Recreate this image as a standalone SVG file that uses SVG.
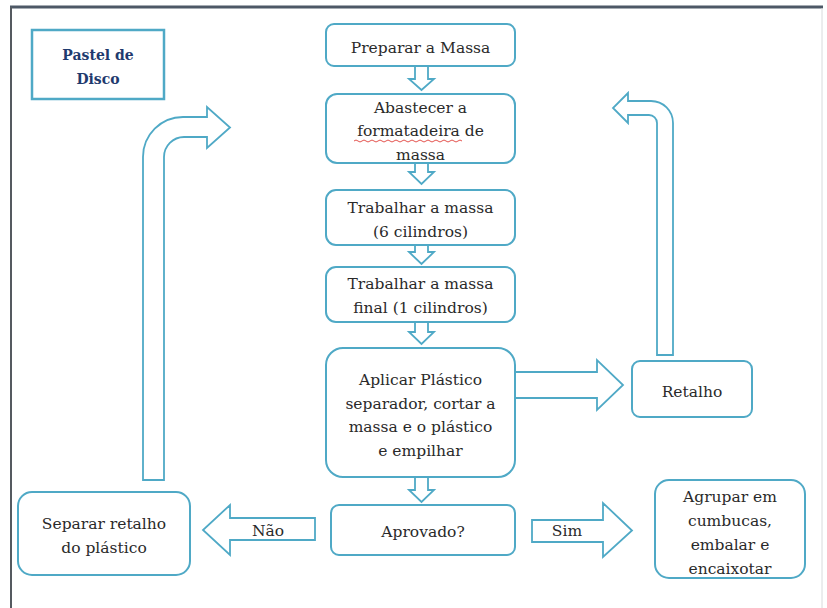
<svg xmlns="http://www.w3.org/2000/svg" width="827" height="608" viewBox="0 0 827 608">
<style>
.box{fill:#ffffff;stroke:#4fa9c6;stroke-width:2}
.arr{fill:#ffffff;stroke:#4fa9c6;stroke-width:1.8;stroke-linejoin:miter}
.t{font-family:"DejaVu Serif","Liberation Serif",serif;font-size:15.5px;fill:#2a2a2a;text-anchor:middle}
.title{font-family:"DejaVu Serif","Liberation Serif",serif;font-size:14px;font-weight:bold;fill:#1f3a6e;text-anchor:middle}
</style>
<rect x="0" y="0" width="827" height="608" fill="#ffffff"/>
<g id="frame">
<line x1="10" y1="7" x2="823" y2="7" stroke="#4d5866" stroke-width="3"/>
<line x1="11" y1="7" x2="11" y2="608" stroke="#555a60" stroke-width="2"/>
<line x1="822" y1="8" x2="822" y2="608" stroke="#d8dadc" stroke-width="1"/>
</g>
<g id="connectors">
<path class="arr" d="M143,480 L143,157 A40,40 0 0 1 183,117 L207,117 L207,107 L230,127.5 L207,148 L207,137 L184,137 A20,20 0 0 0 164,157 L164,480 Z"/>
<path class="arr" d="M657,355 L657,123 A8,8 0 0 0 649,115 L628,115 L628,123 L613,108 L628,93 L628,101 L651,101 A22,22 0 0 1 673,123 L673,355 Z"/>
<path class="arr" d="M515,372 L597,372 L597,360 L623,385 L597,410 L597,398 L515,398 Z"/>
<path class="arr" d="M532,520 L603,520 L603,503 L632,530.5 L603,557 L603,542 L532,542 Z"/>
<path class="arr" d="M315,518 L230,518 L230,505 L203,530 L230,555 L230,540 L315,540 Z"/>
<path class="arr" d="M415,66 L415,79 L409,79 L421.5,90 L434,79 L428,79 L428,66"/>
<path class="arr" d="M415,163 L415,172 L409,172 L421.5,184 L434,172 L428,172 L428,163"/>
<path class="arr" d="M415,245 L415,252 L409,252 L421.5,264 L434,252 L428,252 L428,245"/>
<path class="arr" d="M415,322 L415,332 L409,332 L421.5,344 L434,332 L428,332 L428,322"/>
<path class="arr" d="M415,477 L415,490 L409,490 L421.5,502 L434,490 L428,490 L428,477"/>
<text class="t" x="268" y="536">Não</text>
<text class="t" x="567" y="536">Sim</text>
</g>
<g id="title">
<rect x="32" y="30" width="132" height="69" fill="#ffffff" stroke="#4fa9c6" stroke-width="2.5"/>
<text class="title" x="98" y="60">Pastel de</text>
<text class="title" x="98" y="84">Disco</text>
</g>
<g id="preparar">
<rect class="box" x="326" y="24" width="189" height="42" rx="8"/>
<text class="t" x="420.5" y="53">Preparar a Massa</text>
</g>
<g id="abastecer">
<rect class="box" x="326" y="94" width="189" height="69" rx="11"/>
<text class="t" x="420.5" y="113">Abastecer a</text>
<text class="t" x="420.5" y="136">formatadeira de</text>
<text class="t" x="420.5" y="160">massa</text>
<path d="M354,141 q2,-2 4,0 t4,0 t4,0 t4,0 t4,0 t4,0 t4,0 t4,0 t4,0 t4,0 t4,0 t4,0 t4,0 t4,0 t4,0 t4,0 t4,0 t4,0 t4,0 t4,0 t4,0 t4,0 t4,0 t4,0 t4,0 t4,0 t4,0" fill="none" stroke="#e0403a" stroke-width="0.9"/>
</g>
<g id="trabalhar6">
<rect class="box" x="326" y="190" width="189" height="55" rx="10"/>
<text class="t" x="420.5" y="213">Trabalhar a massa</text>
<text class="t" x="420.5" y="237">(6 cilindros)</text>
</g>
<g id="trabalhar1">
<rect class="box" x="326" y="267" width="189" height="55" rx="10"/>
<text class="t" x="420.5" y="289">Trabalhar a massa</text>
<text class="t" x="420.5" y="313">final (1 cilindros)</text>
</g>
<g id="aplicar">
<rect class="box" x="326" y="348" width="189" height="129" rx="17"/>
<text class="t" x="420.5" y="385">Aplicar Plástico</text>
<text class="t" x="420.5" y="409">separador, cortar a</text>
<text class="t" x="420.5" y="432">massa e o plástico</text>
<text class="t" x="420.5" y="456">e empilhar</text>
</g>
<g id="retalho">
<rect class="box" x="632" y="361" width="120" height="56" rx="8"/>
<text class="t" x="692" y="397">Retalho</text>
</g>
<g id="aprovado">
<rect class="box" x="331" y="505" width="184" height="50" rx="8"/>
<text class="t" x="423" y="537">Aprovado?</text>
</g>
<g id="separar">
<rect class="box" x="18" y="492" width="172" height="83" rx="14"/>
<text class="t" x="104" y="529">Separar retalho</text>
<text class="t" x="104" y="553">do plástico</text>
</g>
<g id="agrupar">
<rect class="box" x="655" y="480" width="150" height="98" rx="14"/>
<text class="t" x="730" y="502">Agrupar em</text>
<text class="t" x="730" y="526">cumbucas,</text>
<text class="t" x="730" y="550">embalar e</text>
<text class="t" x="730" y="574">encaixotar</text>
</g>
</svg>
